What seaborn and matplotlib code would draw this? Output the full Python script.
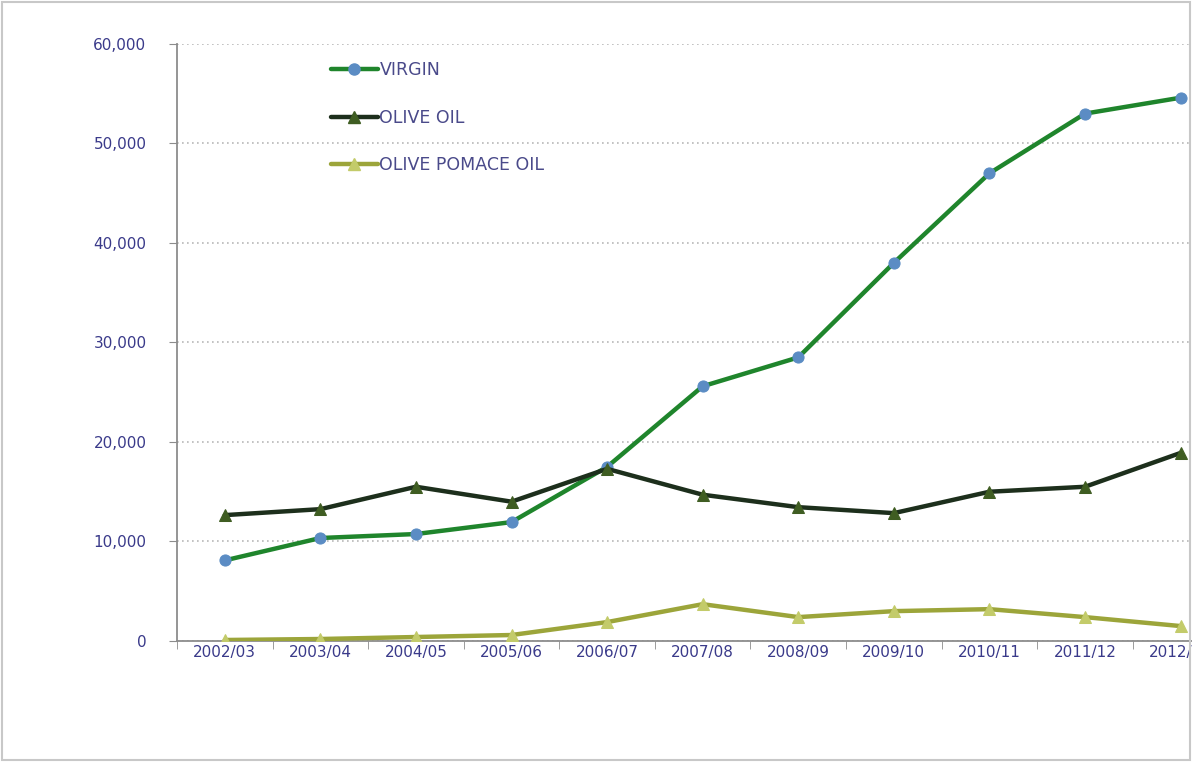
import matplotlib
matplotlib.use("Agg")
import matplotlib.pyplot as plt
import numpy as np
import pandas as pd
import seaborn as sns
from matplotlib.lines import Line2D
from matplotlib.patches import Rectangle

seasons = ["2002/03", "2003/04", "2004/05", "2005/06", "2006/07", "2007/08",
           "2008/09", "2009/10", "2010/11", "2011/12", "2012/13"]
virgin = [8100, 10350, 10750, 11950, 17500, 25600, 28500, 38000, 47000, 53000, 54600]
olive_oil = [12650, 13250, 15500, 14000, 17300, 14700, 13450, 12850, 15000, 15500, 18900]
pomace = [100, 200, 400, 600, 1900, 3700, 2400, 3000, 3200, 2400, 1500]
y_ticks = [0, 10000, 20000, 30000, 40000, 50000, 60000]

series = {
    "VIRGIN": (virgin, "#1f852c", "#5b8cc4", "o"),
    "OLIVE OIL": (olive_oil, "#1d2f1c", "#3f5d22", "^"),
    "OLIVE POMACE OIL": (pomace, "#9ca53a", "#c3cb6a", "^"),
}

sns.set_style("white")
fig = plt.figure(figsize=(11.92, 7.62), dpi=100)
ax = fig.add_axes([0.1485, 0.1588, 0.882, 0.7835])

pos = np.arange(len(seasons))
handles = []
for name, (vals, lc, mc, mk) in series.items():
    df = pd.DataFrame({"pos": pos, "value": vals})
    sns.lineplot(data=df, x="pos", y="value", ax=ax, color=lc, linewidth=3.2,
                 marker=mk, markersize=8, markerfacecolor=mc, markeredgecolor=mc,
                 zorder=3)
    handles.append(Line2D([], [], color=lc, linewidth=3.2, marker=mk, markersize=8,
                          markerfacecolor=mc, markeredgecolor=mc, label=name))

ax.set_xlim(-0.5, len(seasons) - 0.5)
ax.set_ylim(0, 60000)
ax.set_yticks(y_ticks)
ax.set_yticklabels([f"{v:,}" for v in y_ticks])
ax.set_xticks(pos)
ax.set_xticklabels(seasons)
ax.set_xticks(np.arange(len(seasons) + 1) - 0.5, minor=True)
ax.set_xlabel("")
ax.set_ylabel("")

ax.grid(axis="y", color="#b8b8b8", linestyle=(0, (1, 2)), linewidth=1.2)
ax.grid(axis="x", visible=False)
for s in ["top", "right"]:
    ax.spines[s].set_visible(False)
for s in ["left", "bottom"]:
    ax.spines[s].set_color("#8c8c8c")
    ax.spines[s].set_linewidth(1.3)

ax.tick_params(axis="y", which="major", length=6, color="#8c8c8c", pad=16,
               labelsize=11, labelcolor="#3a3a8a", left=True)
ax.tick_params(axis="x", which="major", length=0, pad=3, labelsize=11,
               labelcolor="#3a3a8a")
ax.tick_params(axis="x", which="minor", length=6, color="#8c8c8c", bottom=True)

leg = ax.legend(handles=handles, loc="upper left", bbox_to_anchor=(0.1315, 0.997),
                frameon=False, fontsize=12.5, labelcolor="#4a4a8a",
                handlelength=2.7, handletextpad=0.1, labelspacing=1.7)

fig.patches.append(Rectangle((0.002, 0.002), 0.996, 0.996, transform=fig.transFigure,
                             fill=False, edgecolor="#c8c8c8", linewidth=1.5))

fig.savefig("out.png", dpi=100, facecolor="white")
